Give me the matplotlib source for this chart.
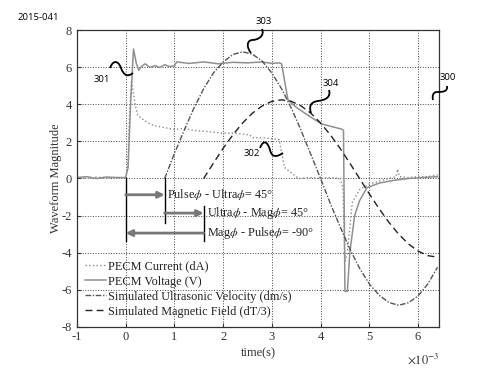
import matplotlib
matplotlib.use("Agg")
import matplotlib.pyplot as plt
import numpy as np
from matplotlib.path import Path
from matplotlib.patches import PathPatch
from matplotlib.ticker import MultipleLocator, FuncFormatter

plt.rcParams['font.family'] = ['Liberation Serif', 'DejaVu Serif']
plt.rcParams['mathtext.fontset'] = 'stix'
plt.rcParams['axes.unicode_minus'] = False

# ---- data (time in ms) ----
t_current = [-1.0, -0.8, -0.6, -0.4, -0.2, 0.0, 0.04, 0.08, 0.12, 0.16,
             0.2, 0.25, 0.3, 0.4, 0.5, 0.6, 0.7, 0.8, 0.9, 1.0,
             1.2, 1.4, 1.6, 1.8, 2.0, 2.2, 2.4, 2.55, 2.6, 2.8,
             3.0, 3.15, 3.2, 3.26, 3.4, 3.55, 3.8, 4.0, 4.2, 4.4,
             4.46, 4.5, 4.55, 4.65, 4.8, 5.0, 5.2, 5.4, 5.55, 5.58,
             5.62, 5.8, 6.0, 6.2, 6.4]
current = [0.05, 0.0, 0.08, 0.02, 0.06, 0.05, 0.6, 3.5, 5.3, 4.6,
           3.9, 3.4, 3.3, 3.1, 2.95, 2.85, 2.8, 2.75, 2.7, 2.65,
           2.7, 2.6, 2.55, 2.5, 2.45, 2.45, 2.4, 2.35, 2.2, 2.2,
           2.15, 2.1, 1.4, 0.6, 0.3, 0.0, 0.05, 0.0, 0.05, 0.0,
           -0.5, -4.5, -4.0, -1.3, -0.6, -0.3, -0.15, 0.0, 0.1, 0.5,
           0.1, 0.05, 0.1, 0.1, 0.2]

t_voltage = [-1.0, -0.8, -0.6, -0.4, -0.2, 0.0, 0.05, 0.1, 0.16, 0.22,
             0.27, 0.32, 0.4, 0.5, 0.6, 0.7, 0.8, 0.9, 1.0, 1.05,
             1.3, 1.6, 1.9, 2.2, 2.5, 2.8, 3.0, 3.15, 3.2, 3.33,
             3.5, 3.75, 4.02, 4.43, 4.47, 4.5, 4.55, 4.6, 4.7, 4.8,
             4.95, 5.2, 5.5, 5.8, 6.1, 6.4]
voltage = [0.05, 0.1, 0.0, 0.08, 0.05, 0.05, 0.6, 4.0, 7.0, 6.2,
           5.85, 6.05, 6.2, 6.0, 6.1, 6.0, 6.15, 6.05, 6.1, 6.3,
           6.22, 6.3, 6.2, 6.28, 6.25, 6.3, 6.22, 6.25, 6.2, 4.25,
           3.85, 3.4, 2.95, 2.67, 2.6, -6.1, -6.1, -4.0, -2.0, -1.2,
           -0.5, -0.25, -0.1, 0.0, 0.05, 0.1]

t_velocity = [0.8, 1.0, 1.2, 1.4, 1.6, 1.8, 2.0, 2.2, 2.4, 2.6,
              2.8, 3.0, 3.2, 3.4, 3.6, 3.8, 4.0, 4.2, 4.4, 4.6,
              4.8, 5.0, 5.2, 5.4, 5.6, 5.8, 6.0, 6.2, 6.4]
velocity = [0.0, 1.35, 2.6, 3.8, 4.85, 5.7, 6.3, 6.7, 6.85, 6.72,
            6.35, 5.7, 4.85, 3.8, 2.6, 1.3, 0.0, -1.35, -2.6, -3.8,
            -4.85, -5.7, -6.3, -6.7, -6.85, -6.72, -6.35, -5.7, -4.8]

t_magnetic = [1.6, 1.8, 2.0, 2.2, 2.4, 2.6, 2.8, 3.0, 3.2, 3.4,
              3.6, 3.8, 4.0, 4.2, 4.4, 4.6, 4.8, 5.0, 5.2, 5.4,
              5.6, 5.8, 6.0, 6.2, 6.4]
magnetic = [0.0, 0.83, 1.63, 2.36, 3.0, 3.53, 3.92, 4.17, 4.25, 4.17,
            3.92, 3.53, 3.0, 2.36, 1.63, 0.83, 0.0, -0.83, -1.63, -2.36,
            -3.0, -3.53, -3.92, -4.17, -4.25]

labels = ["PECM Current (dA)", "PECM Voltage (V)",
          "Simulated Ultrasonic Velocity (dm/s)", "Simulated Magnetic Field (dT/3)"]

phase_texts = [r"Pulse$\phi$ - Ultra$\phi$= 45°",
               r"Ultra$\phi$ - Mag$\phi$= 45°",
               r"Mag$\phi$ - Pulse$\phi$= -90°"]
t_pulse, t_ultra, t_mag = 0.0, 0.8, 1.6

ms = 1e-3
fig = plt.figure(figsize=(4.84, 3.81), dpi=100)
ax = fig.add_axes([0.159, 0.143, 0.748, 0.777])

ax.plot(np.array(t_current) * ms, current, linestyle=':', color='#8a8a8a', lw=1.0, label=labels[0])
ax.plot(np.array(t_voltage) * ms, voltage, linestyle='-', color='#8f8f8f', lw=1.1, label=labels[1])
ax.plot(np.array(t_velocity) * ms, velocity, linestyle=(0, (4, 1.2, 1, 1.2)), color='#555555', lw=1.0, label=labels[2])
ax.plot(np.array(t_magnetic) * ms, magnetic, linestyle=(0, (5, 3)), color='#222222', lw=1.0, label=labels[3])

ax.set_xlim(-1 * ms, 6.43 * ms)
ax.set_ylim(-8, 8)
ax.xaxis.set_major_locator(MultipleLocator(1 * ms))
ax.yaxis.set_major_locator(MultipleLocator(2))
ax.xaxis.set_major_formatter(FuncFormatter(lambda v, p: f"{round(v / ms):d}"))
ax.grid(True, linestyle=':', color='#444444', lw=0.7)
ax.tick_params(direction='in', length=3, labelsize=9, colors='#333333')
for s in ax.spines.values():
    s.set_linewidth(0.9)
    s.set_color('#333333')
ax.text(1.0, -0.085, r"$\times 10^{-3}$", transform=ax.transAxes, ha='right', va='top',
        fontsize=9, color='#333333')
ax.set_xlabel("time(s)", fontsize=9, color='#333333', labelpad=3)
ax.set_ylabel("Waveform Magnitude", fontsize=9, color='#333333', labelpad=0)

# phase arrows
y1, y2, y3 = -0.88, -1.87, -2.95
ax.plot([t_pulse * ms, t_pulse * ms], [0.0, -3.4], color='black', lw=1.0)
ax.plot([t_ultra * ms, t_ultra * ms], [0.0, -2.4], color='black', lw=1.0)
ax.plot([t_mag * ms, t_mag * ms], [-1.5, -3.4], color='black', lw=1.0)
ap = dict(color='#777777', lw=2.0, shrinkA=0, shrinkB=0, mutation_scale=9)
ax.annotate('', xy=(t_ultra * ms, y1), xytext=(t_pulse * ms, y1), arrowprops=dict(arrowstyle='-|>', **ap))
ax.annotate('', xy=(t_mag * ms, y2), xytext=(t_ultra * ms, y2), arrowprops=dict(arrowstyle='-|>', **ap))
ax.annotate('', xy=(t_pulse * ms, y3), xytext=(t_mag * ms, y3),
            arrowprops=dict(arrowstyle='-|>', color='#777777', lw=2.0, shrinkA=0, shrinkB=0,
                            mutation_scale=9, fc='white'))
ax.text((t_ultra + 0.05) * ms, y1, phase_texts[0], fontsize=8.8, va='center', ha='left', color='#222222')
ax.text((t_mag + 0.06) * ms, y2, phase_texts[1], fontsize=8.8, va='center', ha='left', color='#222222')
ax.text((t_mag + 0.06) * ms, y3, phase_texts[2], fontsize=8.8, va='center', ha='left', color='#222222')

leg = ax.legend(loc='lower left', bbox_to_anchor=(0.022, 0.03), frameon=False, fontsize=8.8,
                handlelength=1.75, handletextpad=0.1, labelspacing=0.25, borderpad=0, borderaxespad=0)
for txt in leg.get_texts():
    txt.set_color('#222222')

# reference numerals and leader squiggles (figure pixel coords)
W, H = 484.0, 381.0
def fp(x, y):
    return (x / W, 1 - y / H)

def squiggle(pts):
    verts = [fp(*p) for p in pts]
    codes = [Path.MOVETO] + [Path.CURVE4] * (len(verts) - 1)
    fig.add_artist(PathPatch(Path(verts, codes), transform=fig.transFigure,
                             fill=False, ec='black', lw=1.3))

sans = ['Open Sans', 'DejaVu Sans']
fig.text(*fp(17, 18), "2015-041", fontsize=6.8, family=sans, va='center', ha='left')
numerals = [("301", 102, 79), ("303", 264, 22), ("304", 331, 83), ("302", 252, 154), ("300", 448, 77)]
for s, x, y in numerals:
    fig.text(*fp(x, y), s, fontsize=6.8, family=sans, va='center', ha='center')

squiggle([(110, 68), (113, 60), (118, 60), (121, 68), (124, 76), (128, 77), (133, 73)])
squiggle([(262, 29), (265, 36), (258, 40), (252, 40), (246, 41), (247, 48), (251, 53)])
squiggle([(329, 90), (331, 97), (326, 100), (318, 101), (310, 102), (309, 107), (311, 113)])
squiggle([(260, 148), (264, 138), (268, 143), (270, 150), (272, 158), (277, 157), (283, 153)])
squiggle([(447, 86), (448, 92), (442, 92), (437, 92), (433, 92), (432, 96), (433, 100)])

fig.savefig("out.png", dpi=100)
